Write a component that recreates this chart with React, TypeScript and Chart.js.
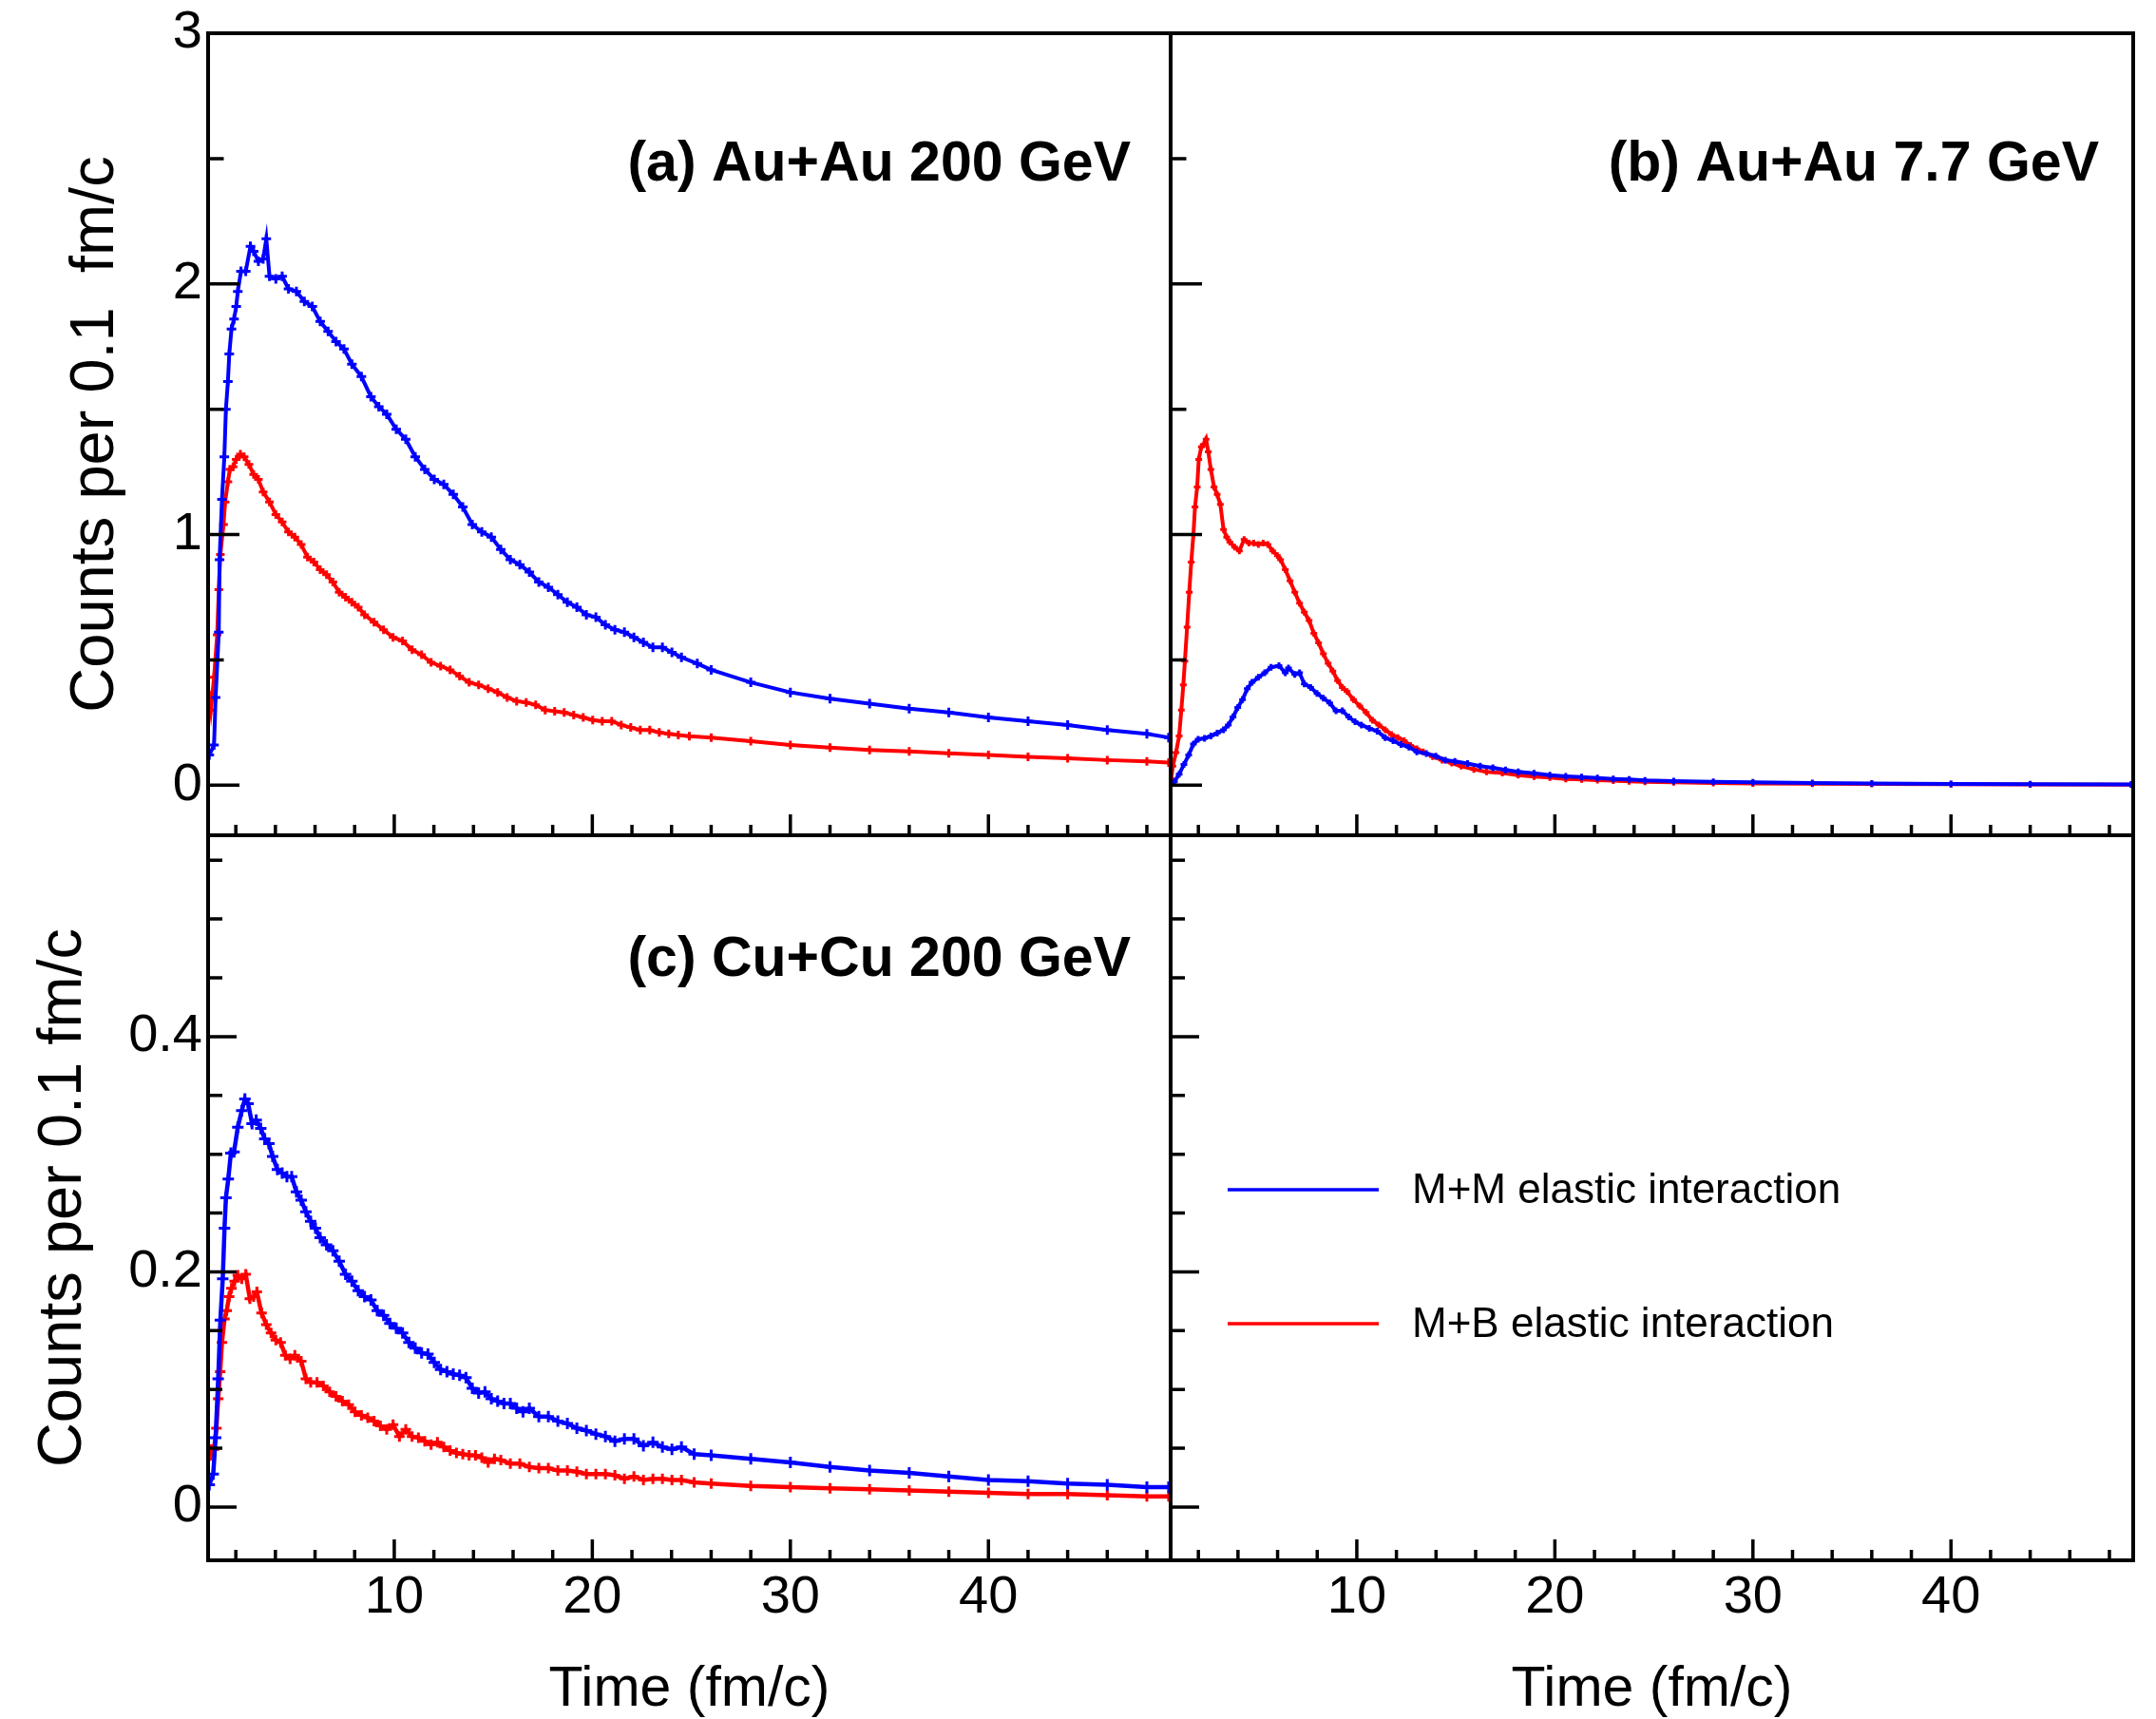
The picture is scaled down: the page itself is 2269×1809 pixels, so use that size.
import React, { useEffect, useRef } from 'react';
import { Chart, registerables } from 'chart.js';

Chart.register(...registerables);

const W = 2269;
const H = 1809;
const FONT = '"Liberation Sans", Arial, Helvetica, sans-serif';
Chart.defaults.font.family = FONT;

// ---------------- axis values ----------------
const X_RANGE = [0.6, 49.2];
const X_MAJOR = [10, 20, 30, 40];
const X_MINOR = [2, 4, 6, 8, 12, 14, 16, 18, 22, 24, 26, 28, 32, 34, 36, 38, 42, 44, 46, 48];
const Y_RANGE_TOP = [-0.2, 3.0];
const Y_MAJOR_TOP = [0, 1, 2, 3];
const Y_MINOR_TOP = [0.5, 1.5, 2.5];
const Y_RANGE_BOTTOM = [-0.0453, 0.5712];
const Y_MAJOR_BOTTOM = [0, 0.2, 0.4];
const Y_MINOR_BOTTOM = [0.05, 0.1, 0.15, 0.25, 0.3, 0.35, 0.45, 0.5, 0.55];

const SERIES_NAMES = ['M+M elastic interaction', 'M+B elastic interaction'];
const SERIES_COLORS = ['#0000ff', '#ff0000'];
const PANEL_LABELS = ['(a) Au+Au 200 GeV', '(b) Au+Au 7.7 GeV', '(c) Cu+Cu 200 GeV'];
const Y_TITLE_TOP = 'Counts per 0.1  fm/c';
const Y_TITLE_BOTTOM = 'Counts per 0.1 fm/c';
const X_TITLE = 'Time (fm/c)';

// ---------------- (a) Au+Au 200 GeV ----------------
const TIME_A_MM = [0.66, 0.9, 0.98, 1.14, 1.18, 1.3, 1.42, 1.5, 1.6, 1.67, 1.78, 1.91, 2.02, 2.1, 2.26, 2.5, 2.74, 2.9, 3.14, 3.38, 3.54, 3.7, 4.02, 4.34, 4.66, 5.06, 5.46, 5.86, 6.26, 6.66, 7.06, 7.46, 7.86, 8.34, 8.82, 9.22, 9.62, 10.1, 10.58, 11.06, 11.54, 12.02, 12.5, 12.98, 13.46, 13.94, 14.42, 14.9, 15.38, 15.86, 16.34, 16.82, 17.3, 17.78, 18.26, 18.74, 19.22, 19.7, 20.18, 20.66, 21.14, 21.62, 22.1, 22.58, 23.06, 23.54, 24.02, 24.5, 25.3, 26, 28, 30, 32, 34, 36, 38, 40, 42, 44, 46, 48, 49.1];
const COUNTS_A_MM = [0.12, 0.16, 0.35, 0.61, 0.9, 1.14, 1.31, 1.5, 1.61, 1.72, 1.82, 1.86, 1.91, 1.97, 2.05, 2.05, 2.15, 2.13, 2.09, 2.1, 2.18, 2.03, 2.02, 2.03, 1.98, 1.97, 1.93, 1.91, 1.85, 1.81, 1.77, 1.74, 1.68, 1.63, 1.55, 1.51, 1.48, 1.42, 1.38, 1.31, 1.26, 1.22, 1.2, 1.16, 1.11, 1.04, 1.01, 0.99, 0.94, 0.9, 0.88, 0.85, 0.81, 0.79, 0.76, 0.73, 0.71, 0.68, 0.67, 0.64, 0.62, 0.61, 0.59, 0.57, 0.55, 0.55, 0.53, 0.51, 0.485, 0.46, 0.41, 0.37, 0.345, 0.325, 0.305, 0.29, 0.27, 0.255, 0.24, 0.22, 0.205, 0.19];
const TIME_A_MB = [0.63, 0.74, 0.9, 1.06, 1.14, 1.22, 1.38, 1.46, 1.6, 1.7, 1.86, 2.02, 2.23, 2.42, 2.66, 2.9, 3.14, 3.38, 3.7, 4.02, 4.34, 4.66, 4.98, 5.3, 5.62, 5.94, 6.26, 6.58, 6.9, 7.22, 7.54, 7.86, 8.18, 8.5, 8.98, 9.46, 9.94, 10.42, 10.9, 11.38, 11.86, 12.34, 12.82, 13.3, 13.78, 14.26, 14.74, 15.22, 15.7, 16.18, 16.66, 17.14, 17.62, 18.1, 18.58, 19.06, 19.54, 20.02, 20.5, 20.98, 21.46, 21.94, 22.42, 22.9, 23.38, 23.86, 24.34, 24.9, 26, 28, 30, 32, 34, 36, 38, 40, 42, 44, 46, 48, 49.1];
const COUNTS_A_MB = [0.37, 0.3, 0.43, 0.6, 0.78, 0.92, 1.04, 1.13, 1.21, 1.26, 1.27, 1.3, 1.32, 1.31, 1.28, 1.24, 1.22, 1.17, 1.13, 1.08, 1.05, 1.01, 0.99, 0.96, 0.91, 0.89, 0.86, 0.84, 0.81, 0.77, 0.75, 0.73, 0.71, 0.68, 0.65, 0.62, 0.59, 0.575, 0.54, 0.52, 0.49, 0.475, 0.46, 0.435, 0.41, 0.4, 0.385, 0.37, 0.35, 0.335, 0.33, 0.32, 0.3, 0.295, 0.29, 0.28, 0.27, 0.26, 0.255, 0.255, 0.24, 0.23, 0.22, 0.22, 0.21, 0.205, 0.2, 0.195, 0.19, 0.175, 0.16, 0.15, 0.14, 0.135, 0.127, 0.12, 0.113, 0.107, 0.1, 0.095, 0.09];

// ---------------- (b) Au+Au 7.7 GeV ----------------
const TIME_B_MM = [0.63, 0.79, 1.03, 1.27, 1.51, 1.75, 1.99, 2.31, 2.63, 2.95, 3.27, 3.51, 3.75, 3.99, 4.23, 4.47, 4.71, 5.03, 5.35, 5.67, 6.07, 6.39, 6.55, 6.87, 7.11, 7.35, 7.67, 7.99, 8.31, 8.63, 8.95, 9.27, 9.59, 9.91, 10.23, 10.63, 11.03, 11.43, 11.83, 12.23, 12.63, 13.03, 13.51, 13.99, 14.47, 14.95, 15.59, 16.23, 16.87, 17.51, 18.15, 18.95, 19.75, 20.55, 21.35, 22.15, 22.95, 23.75, 24.55, 26, 28, 30, 33, 36, 40, 44, 49.1];
const COUNTS_B_MM = [0.006, 0.013, 0.044, 0.082, 0.12, 0.164, 0.183, 0.187, 0.196, 0.208, 0.221, 0.24, 0.272, 0.31, 0.341, 0.385, 0.41, 0.43, 0.448, 0.47, 0.477, 0.448, 0.467, 0.442, 0.448, 0.404, 0.39, 0.366, 0.347, 0.328, 0.297, 0.297, 0.272, 0.253, 0.24, 0.227, 0.215, 0.19, 0.177, 0.162, 0.152, 0.133, 0.126, 0.116, 0.1, 0.095, 0.086, 0.076, 0.069, 0.061, 0.053, 0.047, 0.04, 0.035, 0.032, 0.028, 0.025, 0.023, 0.019, 0.016, 0.013, 0.011, 0.009, 0.007, 0.005, 0.004, 0.003];
const TIME_B_MB = [0.63, 0.71, 0.87, 1.03, 1.14, 1.24, 1.32, 1.43, 1.54, 1.64, 1.75, 1.83, 1.94, 2.02, 2.15, 2.28, 2.39, 2.5, 2.63, 2.79, 2.95, 3.11, 3.27, 3.43, 3.59, 3.83, 4.07, 4.31, 4.55, 4.79, 5.03, 5.27, 5.51, 5.75, 5.99, 6.15, 6.39, 6.63, 6.87, 7.11, 7.35, 7.59, 7.83, 8.07, 8.31, 8.55, 8.79, 9.03, 9.27, 9.51, 9.83, 10.15, 10.47, 10.79, 11.11, 11.43, 11.75, 12.07, 12.39, 12.71, 13.03, 13.35, 13.83, 14.31, 14.79, 15.27, 15.91, 16.55, 17.35, 18.15, 18.95, 19.75, 20.55, 21.35, 22.15, 22.95, 23.75, 24.55, 26, 28, 30, 33, 36, 40, 44, 49.1];
const COUNTS_B_MB = [0.025, 0.076, 0.13, 0.196, 0.3, 0.4, 0.495, 0.63, 0.77, 0.89, 1.0, 1.11, 1.19, 1.3, 1.35, 1.36, 1.38, 1.33, 1.26, 1.19, 1.16, 1.12, 1.02, 0.99, 0.97, 0.95, 0.935, 0.98, 0.966, 0.966, 0.96, 0.966, 0.96, 0.935, 0.916, 0.9, 0.86, 0.815, 0.77, 0.726, 0.69, 0.657, 0.606, 0.568, 0.524, 0.486, 0.455, 0.417, 0.39, 0.373, 0.341, 0.316, 0.29, 0.259, 0.24, 0.221, 0.202, 0.19, 0.177, 0.158, 0.145, 0.133, 0.114, 0.1, 0.088, 0.076, 0.063, 0.053, 0.048, 0.04, 0.034, 0.03, 0.025, 0.023, 0.02, 0.018, 0.015, 0.013, 0.011, 0.009, 0.007, 0.006, 0.005, 0.004, 0.003, 0.002];

// ---------------- (c) Cu+Cu 200 GeV ----------------
const TIME_C_MM = [0.66, 0.86, 0.98, 1.11, 1.22, 1.34, 1.43, 1.5, 1.62, 1.75, 1.91, 2.1, 2.3, 2.46, 2.62, 2.82, 3.03, 3.26, 3.46, 3.67, 3.86, 4.1, 4.34, 4.58, 4.82, 5.06, 5.3, 5.54, 5.78, 6.02, 6.26, 6.58, 6.9, 7.22, 7.54, 7.86, 8.18, 8.5, 8.82, 9.14, 9.46, 9.78, 10.1, 10.42, 10.74, 11.06, 11.38, 11.7, 12.02, 12.34, 12.66, 12.98, 13.3, 13.62, 13.94, 14.26, 14.58, 14.9, 15.22, 15.54, 15.86, 16.18, 16.5, 16.82, 17.3, 17.78, 18.26, 18.74, 19.22, 19.7, 20.18, 20.66, 21.14, 21.62, 22.1, 22.58, 23.06, 23.54, 24.02, 24.5, 25.14, 26, 28, 30, 32, 34, 36, 38, 40, 42, 44, 46, 48, 49.1];
const COUNTS_C_MM = [0.019, 0.028, 0.059, 0.109, 0.159, 0.194, 0.237, 0.263, 0.279, 0.301, 0.302, 0.323, 0.337, 0.347, 0.343, 0.326, 0.329, 0.322, 0.313, 0.309, 0.298, 0.287, 0.284, 0.281, 0.281, 0.268, 0.261, 0.251, 0.243, 0.237, 0.229, 0.223, 0.218, 0.209, 0.198, 0.192, 0.184, 0.179, 0.176, 0.167, 0.163, 0.156, 0.152, 0.148, 0.14, 0.135, 0.131, 0.13, 0.123, 0.117, 0.115, 0.113, 0.112, 0.11, 0.101, 0.097, 0.098, 0.092, 0.09, 0.088, 0.088, 0.084, 0.081, 0.084, 0.077, 0.077, 0.073, 0.071, 0.067, 0.065, 0.062, 0.06, 0.056, 0.058, 0.058, 0.052, 0.055, 0.051, 0.049, 0.051, 0.045, 0.044, 0.041, 0.038, 0.034, 0.031, 0.029, 0.026, 0.023, 0.022, 0.02, 0.019, 0.017, 0.017];
const TIME_C_MB = [0.62, 0.74, 0.9, 1.02, 1.11, 1.21, 1.3, 1.43, 1.54, 1.66, 1.78, 1.94, 2.1, 2.3, 2.5, 2.71, 2.9, 3.06, 3.3, 3.54, 3.78, 4.02, 4.26, 4.5, 4.74, 4.98, 5.3, 5.54, 5.78, 6.1, 6.42, 6.74, 7.06, 7.38, 7.7, 8.02, 8.34, 8.66, 8.98, 9.3, 9.62, 9.94, 10.26, 10.58, 10.9, 11.22, 11.54, 11.86, 12.18, 12.5, 12.82, 13.14, 13.46, 13.78, 14.1, 14.42, 14.74, 15.06, 15.38, 15.86, 16.34, 16.82, 17.3, 17.78, 18.26, 18.74, 19.22, 19.7, 20.18, 20.66, 21.14, 21.62, 22.1, 22.58, 23.06, 23.54, 24.02, 24.5, 25.14, 26, 28, 30, 32, 34, 36, 38, 40, 42, 44, 46, 48, 49.1];
const COUNTS_C_MB = [0.052, 0.044, 0.049, 0.067, 0.092, 0.115, 0.14, 0.16, 0.167, 0.179, 0.186, 0.192, 0.197, 0.194, 0.198, 0.177, 0.179, 0.183, 0.165, 0.155, 0.148, 0.142, 0.14, 0.129, 0.126, 0.129, 0.124, 0.109, 0.106, 0.106, 0.103, 0.098, 0.094, 0.09, 0.087, 0.081, 0.078, 0.076, 0.073, 0.069, 0.066, 0.07, 0.06, 0.066, 0.06, 0.059, 0.056, 0.053, 0.055, 0.051, 0.048, 0.046, 0.045, 0.044, 0.044, 0.042, 0.038, 0.041, 0.04, 0.037, 0.037, 0.034, 0.033, 0.033, 0.031, 0.031, 0.03, 0.028, 0.028, 0.028, 0.027, 0.024, 0.026, 0.023, 0.024, 0.024, 0.023, 0.023, 0.021, 0.02, 0.018, 0.017, 0.016, 0.015, 0.014, 0.013, 0.012, 0.011, 0.011, 0.01, 0.009, 0.009];

// ---------------- layout (pixels) ----------------
const LEFT_AREA = { left: 219, right: 1232 };
const RIGHT_AREA = { left: 1232, right: 2245 };
const TOP_ROW = { top: 35, bottom: 879 };
const BOTTOM_ROW = { top: 879, bottom: 1642 };

type Series = { name: string; color: string; t: number[]; v: number[]; r: number; w: number };
type PanelSpec = {
  id: string;
  area: { left: number; right: number; top: number; bottom: number };
  yRange: number[];
  yMajor: number[];
  yMinor: number[];
  yLen: number[];
  showY: boolean;
  yTitle?: string;
  yTitleX?: number;
  showX: boolean;
  series: Series[];
  label?: { text: string; right: number; baseline: number };
  legend?: boolean;
};

const mk = (i: number, t: number[], v: number[], r: number, w: number): Series => ({
  name: SERIES_NAMES[i],
  color: SERIES_COLORS[i],
  t,
  v,
  r,
  w,
});

const PANELS: PanelSpec[] = [
  {
    id: 'a',
    area: { ...LEFT_AREA, ...TOP_ROW },
    yRange: Y_RANGE_TOP,
    yMajor: Y_MAJOR_TOP,
    yMinor: Y_MINOR_TOP,
    yLen: [33, 16.5],
    showY: true,
    yTitle: Y_TITLE_TOP,
    yTitleX: 101,
    showX: false,
    series: [mk(0, TIME_A_MM, COUNTS_A_MM, 5, 4), mk(1, TIME_A_MB, COUNTS_A_MB, 4.5, 4)],
    label: { text: PANEL_LABELS[0], right: 1190, baseline: 190 },
  },
  {
    id: 'b',
    area: { ...RIGHT_AREA, ...TOP_ROW },
    yRange: Y_RANGE_TOP,
    yMajor: Y_MAJOR_TOP,
    yMinor: Y_MINOR_TOP,
    yLen: [33, 16.5],
    showY: false,
    showX: false,
    series: [mk(0, TIME_B_MM, COUNTS_B_MM, 3.5, 4), mk(1, TIME_B_MB, COUNTS_B_MB, 3.5, 4)],
    label: { text: PANEL_LABELS[1], right: 2209, baseline: 190 },
  },
  {
    id: 'c',
    area: { ...LEFT_AREA, ...BOTTOM_ROW },
    yRange: Y_RANGE_BOTTOM,
    yMajor: Y_MAJOR_BOTTOM,
    yMinor: Y_MINOR_BOTTOM,
    yLen: [30, 15],
    showY: true,
    yTitle: Y_TITLE_BOTTOM,
    yTitleX: 67,
    showX: true,
    series: [mk(0, TIME_C_MM, COUNTS_C_MM, 6, 4.5), mk(1, TIME_C_MB, COUNTS_C_MB, 5.5, 4.5)],
    label: { text: PANEL_LABELS[2], right: 1190, baseline: 1027 },
  },
  {
    id: 'd',
    area: { ...RIGHT_AREA, ...BOTTOM_ROW },
    yRange: Y_RANGE_BOTTOM,
    yMajor: Y_MAJOR_BOTTOM,
    yMinor: Y_MINOR_BOTTOM,
    yLen: [30, 15],
    showY: false,
    showX: true,
    series: [],
    legend: true,
  },
];

const X_TICK_LEN = [22, 11];
const FRAME_WIDTH = 4;
const TICK_WIDTH = 3.5;
const LEGEND_ROWS_Y = [1252, 1393];
const LEGEND_LINE = [1292, 1451];
const LEGEND_TEXT_X = 1486;

function framePlugin(p: PanelSpec) {
  return {
    id: 'rootFrame' + p.id,
    afterDatasetsDraw(chart: any) {
      const { ctx, chartArea: a } = chart;
      const xs = chart.scales.x;
      const ys = chart.scales.y;
      ctx.save();
      ctx.strokeStyle = '#000';
      ctx.lineCap = 'butt';
      ctx.lineWidth = TICK_WIDTH;
      ctx.beginPath();
      X_MAJOR.forEach((v) => {
        const px = xs.getPixelForValue(v);
        ctx.moveTo(px, a.bottom);
        ctx.lineTo(px, a.bottom - X_TICK_LEN[0]);
      });
      X_MINOR.forEach((v) => {
        const px = xs.getPixelForValue(v);
        ctx.moveTo(px, a.bottom);
        ctx.lineTo(px, a.bottom - X_TICK_LEN[1]);
      });
      p.yMajor.forEach((v) => {
        const py = ys.getPixelForValue(v);
        ctx.moveTo(a.left, py);
        ctx.lineTo(a.left + p.yLen[0], py);
      });
      p.yMinor.forEach((v) => {
        const py = ys.getPixelForValue(v);
        ctx.moveTo(a.left, py);
        ctx.lineTo(a.left + p.yLen[1], py);
      });
      ctx.stroke();
      ctx.lineWidth = FRAME_WIDTH;
      ctx.strokeRect(a.left, a.top, a.right - a.left, a.bottom - a.top);

      if (p.label) {
        ctx.fillStyle = '#000';
        ctx.font = `bold 59px ${FONT}`;
        ctx.textAlign = 'right';
        ctx.textBaseline = 'alphabetic';
        ctx.fillText(p.label.text, p.label.right, p.label.baseline);
      }
      if (p.legend) {
        SERIES_NAMES.forEach((name, i) => {
          const y = LEGEND_ROWS_Y[i];
          ctx.strokeStyle = SERIES_COLORS[i];
          ctx.lineWidth = 3.5;
          ctx.beginPath();
          ctx.moveTo(LEGEND_LINE[0], y);
          ctx.lineTo(LEGEND_LINE[1], y);
          ctx.stroke();
          ctx.fillStyle = '#000';
          ctx.font = `44px ${FONT}`;
          ctx.textAlign = 'left';
          ctx.textBaseline = 'middle';
          ctx.fillText(name, LEGEND_TEXT_X, y + 2);
        });
      }
      ctx.restore();
    },
  };
}

function buildConfig(p: PanelSpec): any {
  const a = p.area;
  const tickFont = { family: FONT, size: 56, lineHeight: 1 };
  return {
    type: 'line',
    data: {
      datasets: p.series.map((s) => ({
        label: s.name,
        data: s.t.map((x, i) => ({ x, y: s.v[i] })).filter((pt) => pt.y !== undefined),
        borderColor: s.color,
        backgroundColor: s.color,
        borderWidth: s.w,
        pointStyle: 'cross',
        pointRadius: s.r,
        pointBorderWidth: 3,
        pointBorderColor: s.color,
        pointBackgroundColor: s.color,
        tension: 0,
        fill: false,
      })),
    },
    options: {
      responsive: false,
      maintainAspectRatio: false,
      animation: false,
      devicePixelRatio: 1,
      events: [],
      layout: {
        padding: {
          left: p.showY ? 0 : a.left,
          top: a.top,
          right: W - a.right,
          bottom: p.showX ? 0 : H - a.bottom,
        },
      },
      plugins: {
        legend: { display: false },
        tooltip: { enabled: false },
        title: { display: false },
      },
      scales: {
        x: {
          type: 'linear',
          min: X_RANGE[0],
          max: X_RANGE[1],
          bounds: 'data',
          grid: { display: false, drawTicks: false },
          border: { display: false },
          ticks: {
            display: p.showX,
            autoSkip: false,
            maxRotation: 0,
            minRotation: 0,
            padding: 12,
            color: '#000',
            font: tickFont,
            callback: (v: number) => String(v),
          },
          title: {
            display: p.showX,
            text: X_TITLE,
            color: '#000',
            font: { family: FONT, size: 59, lineHeight: 1 },
            padding: { top: 0, bottom: 1 },
          },
          afterBuildTicks: (s: any) => {
            s.ticks = X_MAJOR.map((value) => ({ value }));
          },
          afterFit: (s: any) => {
            s.height = p.showX ? H - a.bottom : 0;
            s.paddingLeft = 0;
            s.paddingRight = 0;
            s.paddingTop = 0;
            s.paddingBottom = 0;
          },
        },
        y: {
          type: 'linear',
          min: p.yRange[0],
          max: p.yRange[1],
          bounds: 'data',
          grid: { display: false, drawTicks: false },
          border: { display: false },
          ticks: {
            display: p.showY,
            autoSkip: false,
            padding: 6,
            color: '#000',
            font: tickFont,
            callback: (v: number) => String(v),
          },
          title: {
            display: !!p.yTitle,
            text: p.yTitle || '',
            color: '#000',
            font: { family: FONT, size: 65, lineHeight: 1 },
            padding: { top: (p.yTitleX || 0) - 32.5, bottom: 0 },
          },
          afterBuildTicks: (s: any) => {
            s.ticks = p.yMajor.map((value) => ({ value }));
          },
          afterFit: (s: any) => {
            s.width = p.showY ? a.left : 0;
            s.paddingLeft = 0;
            s.paddingRight = 0;
            s.paddingTop = 0;
            s.paddingBottom = 0;
          },
        },
      },
    },
    plugins: [framePlugin(p)],
  };
}

function Panel({ spec }: { spec: PanelSpec }) {
  const ref = useRef<HTMLCanvasElement | null>(null);
  useEffect(() => {
    if (!ref.current) return;
    const chart = new Chart(ref.current, buildConfig(spec));
    return () => chart.destroy();
  }, [spec]);
  return (
    <canvas
      ref={ref}
      width={W}
      height={H}
      style={{ position: 'absolute', left: 0, top: 0, width: W, height: H }}
    />
  );
}

export default function App() {
  return (
    <div
      style={{
        position: 'absolute',
        left: 0,
        top: 0,
        width: W,
        height: H,
        background: '#ffffff',
        overflow: 'hidden',
      }}
    >
      {PANELS.map((p) => (
        <Panel key={p.id} spec={p} />
      ))}
    </div>
  );
}
